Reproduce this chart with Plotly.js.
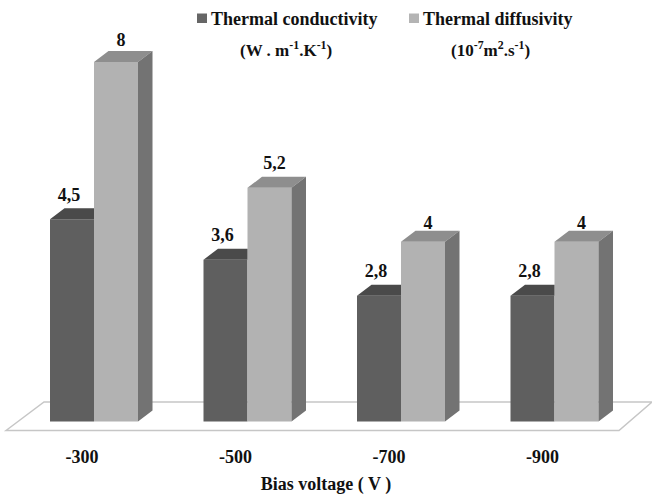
<!DOCTYPE html>
<html>
<head>
<meta charset="utf-8">
<script src="https://cdn.plot.ly/plotly-3.0.1.min.js"></script>
<style>html,body{margin:0;padding:0;background:#fff}</style>
</head>
<body>
<div id="chart" style="width:652px;height:495px"></div>
<script>
const categories = ["-300", "-500", "-700", "-900"];
const conductivity = [4.5, 3.6, 2.8, 2.8];
const diffusivity = [8, 5.2, 4, 4];

const W = 652, H = 495, plotH = 440;
const pxPerCat = 153.5, pxPerVal = 44.94, zeroX = 82, zeroY = 421.5;
const xr = p => p / pxPerCat, yr = p => p / pxPerVal;
const barW = xr(44), shift = xr(12), depthX = xr(14.5), depthY = yr(11);
const font = "'Liberation Serif','Times New Roman',serif";
const idx = categories.map((_, i) => i);
const fmt = v => String(v).replace(".", ",");

function polys(list) {
  const x = [], y = [];
  list.forEach(p => { p.forEach(q => { x.push(q[0]); y.push(q[1]); }); x.push(null); y.push(null); });
  return { x, y };
}
function face(list, color) {
  const p = polys(list);
  return { type: "scatter", mode: "lines", x: p.x, y: p.y, fill: "toself", fillcolor: color,
           line: { width: 0, color: color }, hoverinfo: "skip", showlegend: false };
}
const lightLeft = i => i + shift, lightRight = i => i + shift + barW, darkLeft = i => i + shift - barW;

const darkTop = idx.map(i => { const v = conductivity[i]; return [
  [darkLeft(i), v], [lightLeft(i), v], [lightLeft(i), v + depthY], [darkLeft(i) + depthX, v + depthY], [darkLeft(i), v]]; });
const lightTop = idx.map(i => { const v = diffusivity[i]; return [
  [lightLeft(i), v], [lightRight(i), v], [lightRight(i) + depthX, v + depthY], [lightLeft(i) + depthX, v + depthY], [lightLeft(i), v]]; });
const lightSide = idx.map(i => { const v = diffusivity[i]; return [
  [lightRight(i), 0], [lightRight(i) + depthX, depthY], [lightRight(i) + depthX, v + depthY], [lightRight(i), v], [lightRight(i), 0]]; });

const darkLabelGap = [23, 23, 23, 23], lightLabelGap = [20.5, 23.5, 17.5, 17.5];
const labelFont = { family: font, size: 18, color: "#111", weight: "bold" };

const traces = [
  { type: "bar", x: idx, y: conductivity, width: barW, offset: shift - barW, marker: { color: "#5f5f5f", line: { width: 0 } }, name: "Thermal conductivity", hoverinfo: "y" },
  { type: "bar", x: idx, y: diffusivity, width: barW, offset: shift, marker: { color: "#b2b2b2", line: { width: 0 } }, name: "Thermal diffusivity", hoverinfo: "y" },
  face(darkTop, "#4a4a4a"),
  face(lightTop, "#8e8e8e"),
  face(lightSide, "#737373"),
  { type: "scatter", mode: "text", x: idx.map(i => darkLeft(i) + barW / 2 - xr(3)), y: conductivity.map((v, i) => v + yr(darkLabelGap[i])),
    text: conductivity.map(fmt), textposition: "middle center", textfont: labelFont, hoverinfo: "skip", showlegend: false },
  { type: "scatter", mode: "text", x: idx.map(i => lightLeft(i) + barW / 2 + xr(5)), y: diffusivity.map((v, i) => v + yr(lightLabelGap[i])),
    text: diffusivity.map(fmt), textposition: "middle center", textfont: labelFont, hoverinfo: "skip", showlegend: false }
];

const px = p => p / W, py = p => (plotH - p) / plotH;
const note = (text, x, y, anchor, size) => ({ text: "<b>" + text + "</b>", x: px(x), y: py(y), xref: "paper", yref: "paper",
  xanchor: anchor, yanchor: "middle", showarrow: false, borderpad: 0, font: { family: font, size: size || 18, color: "#111" } });
const square = (x, color) => ({ type: "rect", xref: "paper", yref: "paper", x0: px(x), x1: px(x + 10), y0: py(23), y1: py(13.5), fillcolor: color, line: { width: 0 } });

const floorF = xr(6 - zeroX), floorR = xr(619 - zeroX), floorDX = xr(38), floorFront = yr(zeroY - 430.5), floorBack = yr(zeroY - 402);

const layout = {
  width: W, height: H, margin: { l: 0, r: 0, t: 0, b: H - plotH, pad: 0 },
  paper_bgcolor: "#fff", plot_bgcolor: "#fff", showlegend: false, barmode: "overlay",
  xaxis: { type: "linear", range: [xr(-zeroX), xr(W - zeroX)], tickmode: "array", tickvals: idx, ticktext: categories,
           showgrid: false, zeroline: false, showline: false, ticks: "", ticklabelstandoff: 4,
           tickfont: { family: font, size: 18, color: "#111", weight: "bold" },
           title: { text: "<b>Bias voltage ( V )</b>", standoff: 14, font: { family: font, size: 18, color: "#111" } } },
  yaxis: { range: [yr(zeroY - plotH), yr(zeroY)], showticklabels: false, showgrid: false, zeroline: false, showline: false, ticks: "" },
  shapes: [
    { type: "path", layer: "below", xref: "x", yref: "y",
      path: "M " + floorF + " " + floorFront + " L " + (floorF + floorDX) + " " + floorBack + " L " + (floorR + xr(33)) + " " + floorBack + " L " + floorR + " " + floorFront + " Z",
      fillcolor: "#ffffff", line: { color: "#c6c6c6", width: 1.5 } },
    square(197, "#666666"), square(409, "#b4b4b4")
  ],
  annotations: [
    note("Thermal conductivity", 210, 19, "left"),
    note("Thermal diffusivity", 422, 19, "left"),
    note("(W . m<sup>-1</sup>.K<sup>-1</sup>)", 286, 49, "center", 17),
    note("(10<sup>-7</sup>m<sup>2</sup>.s<sup>-1</sup>)", 490, 49, "center", 17)
  ]
};
Plotly.newPlot("chart", traces, layout, { displayModeBar: false, responsive: false });
</script>
</body>
</html>
